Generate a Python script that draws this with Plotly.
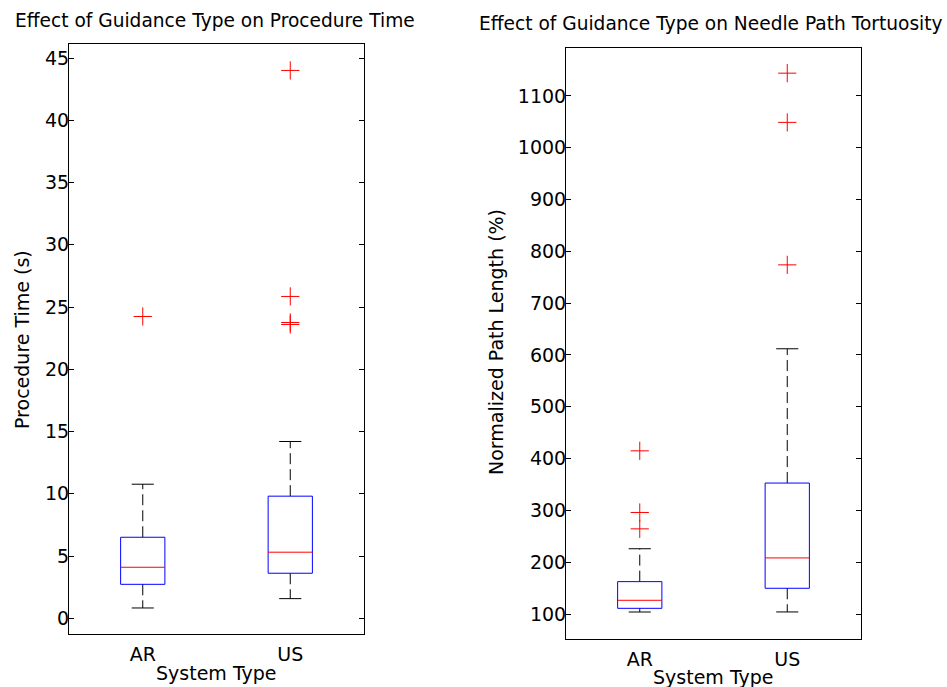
import plotly.graph_objects as go

# ---- data ----
categories = ["AR", "US"]

time_lower = [0.83, 1.58]
time_q1 = [2.73, 3.62]
time_median = [4.10, 5.31]
time_q3 = [6.51, 9.81]
time_upper = [10.77, 14.2]
time_outliers = [[24.24], [44.0, 25.85, 23.76, 23.6]]

path_lower = [103.9, 104.0]
path_q1 = [111.0, 149.7]
path_median = [126.5, 208.3]
path_q3 = [162.5, 352.8]
path_upper = [226.0, 612.0]
path_outliers = [[415.0, 296.0, 264.4], [1144.0, 1049.0, 774.0]]

time_ticks = [0, 5, 10, 15, 20, 25, 30, 35, 40, 45]
path_ticks = [100, 200, 300, 400, 500, 600, 700, 800, 900, 1000, 1100]

FONT = "DejaVu Sans"
FS = 19
TFS = 18.6
BOX_HALF = 0.15
CAP_HALF = 0.075

fig = go.Figure()


def add_boxes(lower, q1, med, q3, upper, outliers, xa, ya):
    bx, by, mx, my, wx, wy, cx, cy, ox, oy = [], [], [], [], [], [], [], [], [], []
    for i in range(len(categories)):
        x = i + 1
        bx += [x - BOX_HALF, x + BOX_HALF, x + BOX_HALF, x - BOX_HALF, x - BOX_HALF, None]
        by += [q1[i], q1[i], q3[i], q3[i], q1[i], None]
        mx += [x - BOX_HALF, x + BOX_HALF, None]
        my += [med[i], med[i], None]
        wx += [x, x, None, x, x, None]
        wy += [q3[i], upper[i], None, q1[i], lower[i], None]
        cx += [x - CAP_HALF, x + CAP_HALF, None, x - CAP_HALF, x + CAP_HALF, None]
        cy += [upper[i], upper[i], None, lower[i], lower[i], None]
        for v in outliers[i]:
            ox.append(x)
            oy.append(v)
    common = dict(xaxis=xa, yaxis=ya, showlegend=False, hoverinfo="skip")
    fig.add_trace(go.Scatter(x=wx, y=wy, mode="lines",
                             line=dict(color="black", width=1, dash="11px,5px"), **common))
    fig.add_trace(go.Scatter(x=cx, y=cy, mode="lines",
                             line=dict(color="black", width=1), **common))
    fig.add_trace(go.Scatter(x=bx, y=by, mode="lines",
                             line=dict(color="blue", width=1), **common))
    fig.add_trace(go.Scatter(x=mx, y=my, mode="lines",
                             line=dict(color="red", width=1), **common))
    fig.add_trace(go.Scatter(x=ox, y=oy, mode="markers",
                             marker=dict(symbol="cross-thin", size=13,
                                         line=dict(color="red", width=1)), **common))


add_boxes(time_lower, time_q1, time_median, time_q3, time_upper, time_outliers, "x", "y")
add_boxes(path_lower, path_q1, path_median, path_q3, path_upper, path_outliers, "x2", "y2")

W, H = 947, 687

axis_common = dict(showline=True, linecolor="black", linewidth=1, mirror="ticks",
                   showgrid=False, zeroline=False,
                   tickfont=dict(family=FONT, size=FS, color="black"))

xcommon = dict(axis_common, range=[0.5, 2.5], tickvals=[1, 2], ticktext=categories,
               ticks="", ticklabelstandoff=3)
ycommon = dict(axis_common, ticks="inside", ticklen=5, tickcolor="black",
               ticklabelstandoff=-5)

fig.update_layout(
    width=W, height=H,
    margin=dict(l=0, r=0, t=0, b=0),
    plot_bgcolor="white", paper_bgcolor="white",
    xaxis=dict(xcommon, domain=[69 / W, 364 / W], anchor="y"),
    yaxis=dict(ycommon, domain=[1 - 634 / H, 1 - 44.3 / H], anchor="x",
               range=[-1.26, 46.1], tickvals=time_ticks),
    xaxis2=dict(xcommon, domain=[566 / W, 861 / W], anchor="y2"),
    yaxis2=dict(ycommon, domain=[1 - 639.3 / H, 1 - 48.3 / H], anchor="x2",
                range=[51.2, 1192], tickvals=path_ticks),
)

tf = dict(family=FONT, size=FS, color="black")
ttf = dict(family=FONT, size=TFS, color="black")
annotations = [
    dict(text="Effect of Guidance Type on Procedure Time", x=215 / W, y=1 - 20 / H, font=ttf),
    dict(text="Effect of Guidance Type on Needle Path Tortuosity", x=711 / W, y=1 - 24 / H, font=ttf),
    dict(text="System Type", x=216 / W, y=1 - 673 / H, font=tf),
    dict(text="System Type", x=713 / W, y=1 - 677 / H, font=tf),
    dict(text="Procedure Time (s)", x=22 / W, y=1 - 340 / H, textangle=-90, font=tf),
    dict(text="Normalized Path Length (%)", x=496 / W, y=1 - 342 / H, textangle=-90, font=tf),
]
for a in annotations:
    fig.add_annotation(xref="paper", yref="paper", showarrow=False,
                       xanchor="center", yanchor="middle", **a)

fig.write_html("out.html", config={"displayModeBar": False},
               post_script="document.body.style.margin='0';document.body.style.overflow='hidden';")
